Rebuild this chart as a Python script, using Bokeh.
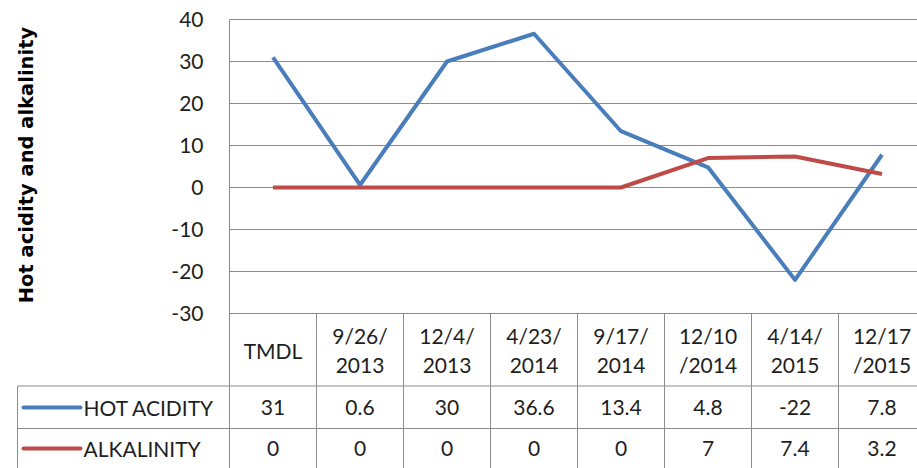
import math
from bokeh.plotting import figure
from bokeh.models import Range1d, FixedTicker, Label, PrintfTickFormatter
from bokeh.core.properties import value
from bokeh.embed import file_html
from bokeh.resources import INLINE

# ---------------- data ----------------
categories = ["TMDL", "9/26/\n2013", "12/4/\n2013", "4/23/\n2014", "9/17/\n2014",
              "12/10\n/2014", "4/14/\n2015", "12/17\n/2015"]
hot_acidity = [31, 0.6, 30, 36.6, 13.4, 4.8, -22, 7.8]
alkalinity = [0, 0, 0, 0, 0, 7, 7.4, 3.2]
series_names = ["HOT ACIDITY", "ALKALINITY"]
y_ticks = [-30, -20, -10, 0, 10, 20, 30, 40]
y_title = "Hot acidity and alkalinity"

# ---------------- style / layout ----------------
BLUE = "#4A7EBB"
RED = "#BE4B48"
GRID = "#8C8C8C"
TXT = "#1E1E1E"
FONT = "Lato"
FS = "21px"
W, H = 917, 468
PLOT_L = 229      # page x of plot-area left edge
COLW = 87         # px per category column
TOP_PX = 19       # page y of the top tick
PXU = 4.2         # px per y unit

y_max = max(y_ticks)
y_min = min(y_ticks)


def px_x(px):
    return (px - PLOT_L) / COLW


def px_y(py):
    return y_max - (py - TOP_PX) / PXU


n = len(categories)
xs = [i + 0.5 for i in range(n)]
x_lo, x_hi = px_x(0), px_x(W)
y_lo, y_hi = px_y(H), px_y(0)

p = figure(width=W, height=H, output_backend="svg", toolbar_location=None,
           x_range=Range1d(x_lo, x_hi), y_range=Range1d(y_lo, y_hi),
           x_axis_location=None, min_border_left=0, min_border_right=0,
           min_border_top=0, min_border_bottom=0)
p.outline_line_color = None
p.xgrid.visible = False
p.ygrid.visible = False

ax = p.yaxis[0]
ax.fixed_location = 0
ax.ticker = FixedTicker(ticks=y_ticks)
ax.formatter = PrintfTickFormatter(format="%d")
ax.bounds = (y_min, y_max)
ax.axis_line_color = None
ax.major_tick_in = 0
ax.major_tick_out = 0
ax.minor_tick_in = 0
ax.minor_tick_out = 0
ax.major_label_standoff = 26
ax.major_label_text_font = FONT
ax.major_label_text_font_size = FS
ax.major_label_text_color = TXT

# gridlines of the plot area
p.segment(x0=[0] * len(y_ticks), y0=y_ticks, x1=[x_hi] * len(y_ticks), y1=y_ticks,
          line_color=GRID, line_width=1)

# table geometry (row boundaries in page px)
hdr_bot = px_y(385.5)
row2_top = px_y(428)
leg_l = px_x(17)

# plot-area left border + header column separators
p.segment(x0=[0] + list(range(1, n)), y0=[y_max] + [y_min] * (n - 1),
          x1=[0] + list(range(1, n)), y1=[y_lo] * n, line_color=GRID, line_width=1)
# table horizontal rules and legend-column left edge
p.segment(x0=[leg_l, leg_l, leg_l], y0=[hdr_bot, row2_top, hdr_bot],
          x1=[x_hi, x_hi, leg_l], y1=[hdr_bot, row2_top, y_lo],
          line_color=GRID, line_width=1)

# series lines
p.line(xs, hot_acidity, line_color=BLUE, line_width=4, line_join="round")
p.line(xs, alkalinity, line_color=RED, line_width=4, line_join="round")

# header (category) row
p.text(x=xs, y=[px_y(349.5)] * n, text=categories, text_align="center",
       text_baseline="middle", text_font=value(FONT), text_font_size=FS,
       text_color=TXT, text_line_height=1.17)

# data rows
row_y = [px_y(407), px_y(448)]
p.segment(x0=[px_x(23)] * 2, y0=row_y, x1=[px_x(80)] * 2, y1=row_y,
          line_color=[BLUE, RED], line_width=4, line_cap="round")
p.text(x=[px_x(83)] * 2, y=row_y, text=series_names, text_align="left",
       text_baseline="middle", text_font=value(FONT), text_font_size=FS, text_color=TXT)


def fmt(v):
    return f"{v:g}"


for ry, vals in zip(row_y, [hot_acidity, alkalinity]):
    p.text(x=xs, y=[ry] * n, text=[fmt(v) for v in vals], text_align="center",
           text_baseline="middle", text_font=value(FONT), text_font_size=FS,
           text_color=TXT)

# y-axis title
p.add_layout(Label(x=px_x(26), y=px_y(164.5), text=y_title, angle=math.pi / 2,
                   text_align="center", text_baseline="middle",
                   text_font="DejaVu Sans", text_font_style="bold",
                   text_font_size="19.5px", text_color="#000000"))

open("out.html", "w").write(file_html(p, INLINE))
